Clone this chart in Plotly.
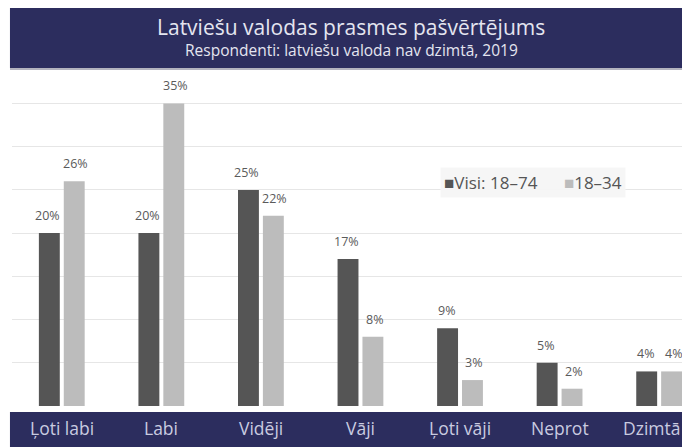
import plotly.graph_objects as go

categories = ["Ļoti labi", "Labi", "Vidēji", "Vāji", "Ļoti vāji", "Neprot", "Dzimtā"]
visi_18_74 = [20, 20, 25, 17, 9, 5, 4]
age_18_34 = [26, 35, 22, 8, 3, 2, 4]
series_names = ["Visi: 18–74", "18–34"]

NAVY = "#2c2d5e"
DARK = "#555555"
LIGHT = "#bcbcbc"
FONT = "Open Sans"

x_idx = list(range(len(categories)))

fig = go.Figure()
fig.add_trace(go.Bar(x=x_idx, y=visi_18_74, name=series_names[0],
                     marker_color=DARK, marker_line_width=0))
fig.add_trace(go.Bar(x=x_idx, y=age_18_34, name=series_names[1],
                     marker_color=LIGHT, marker_line_width=0))

# value labels above bars
annotations = []
for i, (a, b) in enumerate(zip(visi_18_74, age_18_34)):
    for off, v in ((-0.14, a), (0.14, b)):
        annotations.append(dict(x=i + off, y=v, text=f"{v}%", showarrow=False,
                                yanchor="bottom", yshift=7, xref="x", yref="y",
                                font=dict(family=FONT, size=12.5, color="#5a5a5a")))

# category labels in bottom band (last one nudged so it stays inside)
for i, c in enumerate(categories):
    annotations.append(dict(x=i, y=-0.065, text=c, showarrow=False,
                            xref="x", yref="paper", yanchor="middle",
                            xshift=-8 if i == len(categories) - 1 else 0,
                            font=dict(family=FONT, size=17.5, color="#c9cbe0")))

# title
annotations.append(dict(x=0.5, y=1.0, xref="paper", yref="paper", xanchor="center",
                        yanchor="bottom", yshift=25, showarrow=False,
                        text="Latviešu valodas prasmes pašvērtējums",
                        font=dict(family=FONT, size=21, color="#e4e5f0")))
annotations.append(dict(x=0.5, y=1.0, xref="paper", yref="paper", xanchor="center",
                        yanchor="bottom", yshift=5, showarrow=False,
                        text="Respondenti: latviešu valoda nav dzimtā, 2019",
                        font=dict(family=FONT, size=15.5, color="#e4e5f0")))

# legend drawn as text with coloured squares
legend_text = (f"<span style='color:{DARK}'>■</span>{series_names[0]}"
               f"      <span style='color:{LIGHT}'>■</span>{series_names[1]}")
annotations.append(dict(x=0.632, y=25.8, xref="paper", yref="y", xanchor="left",
                        yanchor="middle", showarrow=False, text=legend_text,
                        bgcolor="rgba(246,246,246,0.95)", borderpad=3,
                        font=dict(family=FONT, size=17, color="#555555")))

shapes = [
    # title band
    dict(type="rect", xref="paper", yref="paper", x0=-0.003, x1=1.02,
         y0=1.0, y1=1.2, fillcolor=NAVY, line_width=0, layer="above"),
    # thin grey rule under the title band
    dict(type="line", xref="paper", yref="paper", x0=-0.003, x1=1.02,
         y0=0.997, y1=0.997, line=dict(color="#9a9aa8", width=1.5), layer="above"),
    # bottom band
    dict(type="rect", xref="paper", yref="paper", x0=-0.003, x1=1.02,
         y0=-0.018, y1=-0.14, fillcolor=NAVY, line_width=0, layer="above"),
]

fig.update_layout(
    width=682, height=439,
    margin=dict(l=4, r=0, t=60, b=41),
    paper_bgcolor="white", plot_bgcolor="white",
    barmode="group", bargap=0.5, bargroupgap=0.16,
    font=dict(family=FONT, color="#555555"),
    showlegend=False,
    xaxis=dict(range=[-0.5, 6.31], showticklabels=False, showgrid=False,
               zeroline=False, fixedrange=True),
    yaxis=dict(range=[0, 39.1], dtick=5, showticklabels=False, showgrid=True,
               gridcolor="#e6e6e6", gridwidth=1, zeroline=False),
    shapes=shapes,
    annotations=annotations,
)

fig.write_html("out.html")
